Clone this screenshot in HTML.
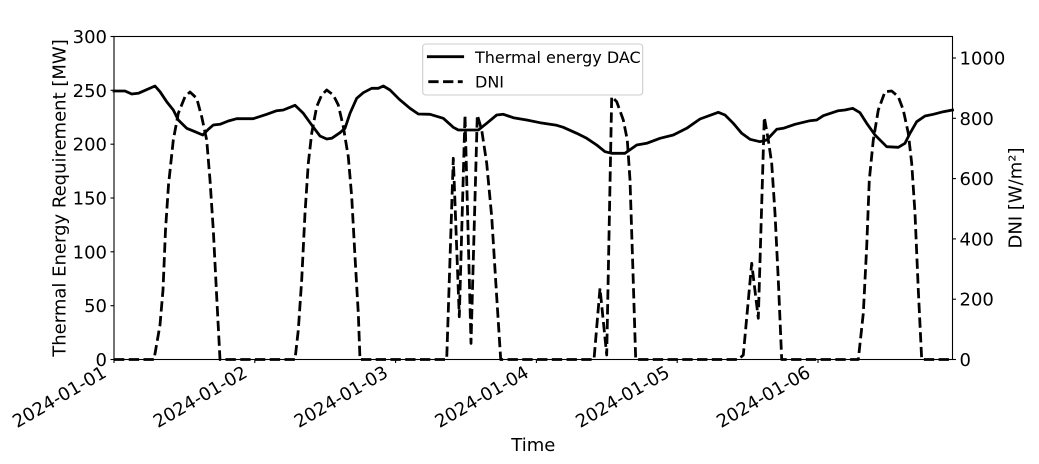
<!DOCTYPE html>
<html>
<head>
<meta charset="utf-8">
<style>
  html, body { margin: 0; padding: 0; background: #ffffff; }
  svg { display: block; }
  text { font-family: "DejaVu Sans", "Liberation Sans", sans-serif; fill: #000; }
</style>
</head>
<body>
<svg width="1039" height="464" viewBox="0 0 1039 464" xmlns="http://www.w3.org/2000/svg">
  <rect x="0" y="0" width="1039" height="464" fill="#ffffff"/>

  <!-- Thermal energy DAC (solid) -->
  <polyline fill="none" stroke="#000" stroke-width="2.78" stroke-linejoin="round" stroke-linecap="square"
    points="114,91 125,91 131.7,94 138.3,93.3 155,86 160,91.7 166.7,101.7 173.3,110 178.3,120 186.7,128.3 195,131.7 202.7,135 208.3,129.3 213.3,125 220,124.3 228.3,121 236.7,118.7 253.3,118.7 266.7,114.3 276.7,110.7 283.3,110 295,105.3 303.3,113.3 311.7,125 320,136 326.7,139 331.7,138.3 340,132.7 345,128.3 350,113.3 356.7,98.3 363.3,92.7 371.7,88.3 378.3,88.3 383.3,86 390,90 399.3,99.3 410,108.3 418.3,114 430,114.3 443.3,118.3 453.3,127.3 458.3,130 478.3,130 486.7,123.3 496.7,115 503.3,114.3 513.3,117.7 526.7,120 540,122.7 556.7,125.3 563.3,127.3 576.7,133.3 586.7,138.3 596.7,145 605,151.7 611.7,153.3 625,153.3 636.7,145 646.7,143.3 660,138.3 673.3,135 686.7,128.3 700,119 718.3,112.3 725,115 733.3,123.3 741.7,133.3 750,139.3 760,141.7 766.7,140 776.7,129.3 783.3,128.3 795,124.3 810,120.7 816.7,120 823.3,115.7 838.3,110.7 845,110 852.7,108.3 860,112.7 866.7,123.3 875,135 886.7,146.7 898.3,147.3 905,143.3 910,133.3 916.7,121.7 925,116 933.3,114.3 943.3,111.7 952.5,110"/>

  <!-- DNI (dashed) -->
  <polyline fill="none" stroke="#000" stroke-width="2.78" stroke-linejoin="round" stroke-linecap="butt" stroke-dasharray="10.3 4.45"
    points="114,359.5 154,359.5 160,325 163,290 165.5,230 168.5,185 173.3,140 178.3,113.3 185,96.7 190,92 196.7,98.3 201.7,116.7 206.7,140 210,180 213.3,230 216.7,296.7 220,359.5 295,359.5 298.3,330 301.7,280 305,213.3 308.3,163.3 311.7,133.3 316.7,106.7 321.7,95 326.7,90 333.3,95 338.3,105 343.3,126.7 348.3,156.7 351.7,196.7 355,256.7 358.3,313.3 360,359.5 446.7,359.5 453.3,158.3 459.3,316.7 465,115 471,343.3 477.3,115 481.7,130 486.7,163.3 491.7,216.7 496.7,296.7 500.7,359.5 594,359.5 600,288.3 606.7,355 611.7,96.7 616.7,101.7 623.3,120 627.3,140 630,180 632.7,263.3 635.7,359.5 738.3,359.5 743.3,355 751.7,263.3 758.3,318.3 764.3,117.3 768.3,140 771.7,163.3 775,213.3 778.3,280 781.7,359.5 858.3,359.5 863.3,313.3 866.7,246.7 869.3,180 873.3,140 878.3,110 885,91.7 891.7,91 898.3,96.7 903.3,110 908.3,133.3 911.7,163.3 915,213.3 918.3,290 921.7,359.5 952.5,359.5"/>

  <!-- Spines -->
  <rect x="114" y="36.5" width="838.5" height="323" fill="none" stroke="#000" stroke-width="1.1"/>

  <!-- Left ticks -->
  <g stroke="#000" stroke-width="1.1">
    <line x1="110.5" y1="359.5" x2="114" y2="359.5"/>
    <line x1="110.5" y1="305.7" x2="114" y2="305.7"/>
    <line x1="110.5" y1="251.8" x2="114" y2="251.8"/>
    <line x1="110.5" y1="198" x2="114" y2="198"/>
    <line x1="110.5" y1="144.2" x2="114" y2="144.2"/>
    <line x1="110.5" y1="90.3" x2="114" y2="90.3"/>
    <line x1="110.5" y1="36.5" x2="114" y2="36.5"/>
    <!-- right ticks -->
    <line x1="952.5" y1="359.5" x2="956" y2="359.5"/>
    <line x1="952.5" y1="299.2" x2="956" y2="299.2"/>
    <line x1="952.5" y1="238.9" x2="956" y2="238.9"/>
    <line x1="952.5" y1="178.6" x2="956" y2="178.6"/>
    <line x1="952.5" y1="118.3" x2="956" y2="118.3"/>
    <line x1="952.5" y1="58" x2="956" y2="58"/>
    <!-- bottom ticks -->
    <line x1="114" y1="359.5" x2="114" y2="363"/>
    <line x1="254.8" y1="359.5" x2="254.8" y2="363"/>
    <line x1="395.6" y1="359.5" x2="395.6" y2="363"/>
    <line x1="536.4" y1="359.5" x2="536.4" y2="363"/>
    <line x1="677.2" y1="359.5" x2="677.2" y2="363"/>
    <line x1="818" y1="359.5" x2="818" y2="363"/>
  </g>

  <!-- Left tick labels -->
  <g font-size="18" text-anchor="end">
    <text x="107" y="366">0</text>
    <text x="107" y="312.2">50</text>
    <text x="107" y="258.3">100</text>
    <text x="107" y="204.5">150</text>
    <text x="107" y="150.7">200</text>
    <text x="107" y="96.8">250</text>
    <text x="107" y="43">300</text>
  </g>

  <!-- Right tick labels -->
  <g font-size="18" text-anchor="start">
    <text x="959.5" y="366">0</text>
    <text x="959.5" y="305.7">200</text>
    <text x="959.5" y="245.4">400</text>
    <text x="959.5" y="185.1">600</text>
    <text x="959.5" y="124.8">800</text>
    <text x="959.5" y="64.5">1000</text>
  </g>

  <!-- X tick labels (rotated 30°) -->
  <g font-size="18" text-anchor="end">
    <text transform="translate(107.7,376) rotate(-30)">2024-01-01</text>
    <text transform="translate(248.5,376) rotate(-30)">2024-01-02</text>
    <text transform="translate(389.3,376) rotate(-30)">2024-01-03</text>
    <text transform="translate(530.1,376) rotate(-30)">2024-01-04</text>
    <text transform="translate(670.9,376) rotate(-30)">2024-01-05</text>
    <text transform="translate(811.7,376) rotate(-30)">2024-01-06</text>
  </g>

  <!-- Axis labels -->
  <text x="533.3" y="451" font-size="18" text-anchor="middle">Time</text>
  <text transform="translate(65.4,198) rotate(-90)" font-size="18" text-anchor="middle">Thermal Energy Requirement [MW]</text>
  <text transform="translate(1021.5,198) rotate(-90)" font-size="18" text-anchor="middle">DNI [W/m²]</text>

  <!-- Legend -->
  <rect x="422.7" y="44" width="220" height="51" rx="3" ry="3" fill="#ffffff" fill-opacity="0.8" stroke="#cccccc" stroke-width="1.1"/>
  <line x1="428.3" y1="56.7" x2="462.7" y2="56.7" stroke="#000" stroke-width="2.78" stroke-linecap="square"/>
  <line x1="428.3" y1="81.7" x2="462.7" y2="81.7" stroke="#000" stroke-width="2.78" stroke-dasharray="10.3 4.45"/>
  <text x="475" y="63" font-size="16">Thermal energy DAC</text>
  <text x="475" y="87.5" font-size="16">DNI</text>
</svg>
</body>
</html>
